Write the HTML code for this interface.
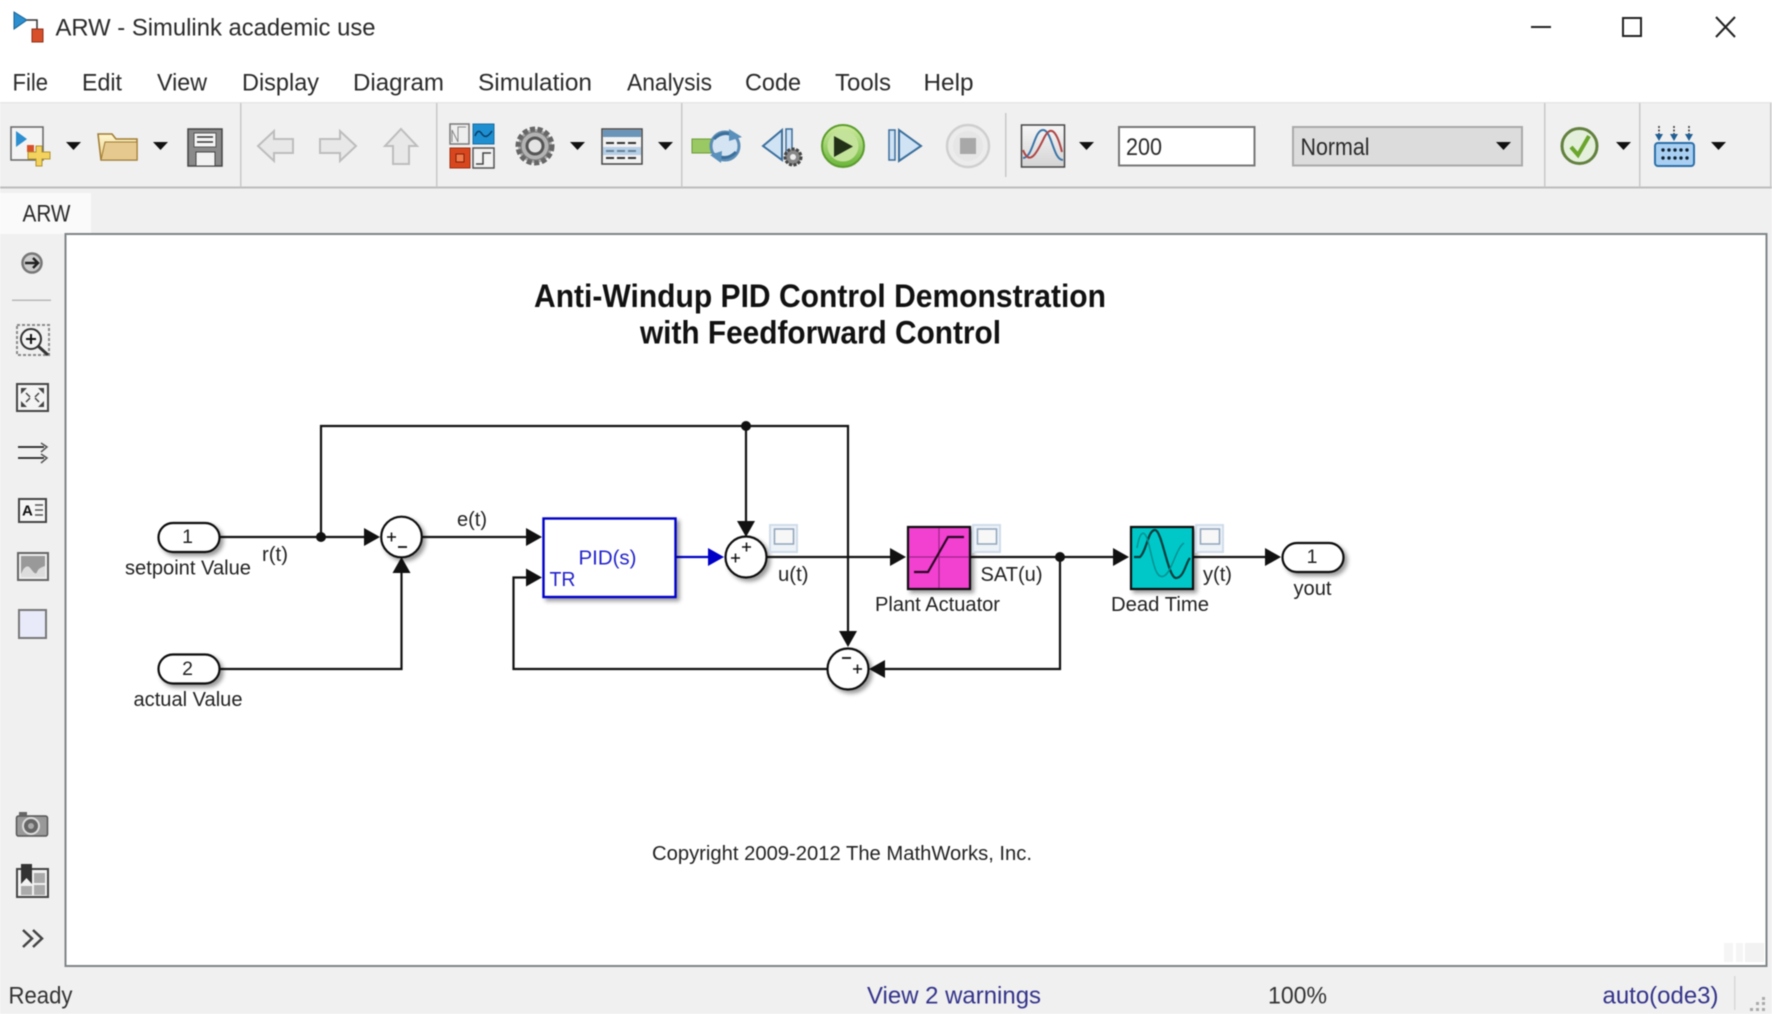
<!DOCTYPE html>
<html><head><meta charset="utf-8"><title>ARW - Simulink academic use</title>
<style>
html,body{margin:0;padding:0;background:#fff;width:1772px;height:1014px;overflow:hidden}
svg{display:block;filter:blur(.6px)}
text{font-family:"Liberation Sans",sans-serif;dominant-baseline:central}
.m{font-size:24px;fill:#2a2a2a}
.w{stroke:#111;stroke-width:2.2;fill:none}
.c{fill:#111}
.n{font-size:19.5px;fill:#222;text-anchor:middle}
.t{font-size:20px;fill:#222}
</style></head><body>
<svg width="1772" height="1014" viewBox="0 0 1772 1014" xmlns="http://www.w3.org/2000/svg">
<defs>
<filter id="s" x="-20%" y="-20%" width="150%" height="150%"><feDropShadow dx="3" dy="3" stdDeviation="2" flood-color="#000" flood-opacity=".4"/></filter>
<linearGradient id="g1" x1="0" y1="0" x2="0" y2="1"><stop offset="0" stop-color="#d2ecA2"/><stop offset="1" stop-color="#6ab63a"/></linearGradient>
<linearGradient id="g2" x1="0" y1="0" x2="0" y2="1"><stop offset="0" stop-color="#fff7d0"/><stop offset="1" stop-color="#e8cf86"/></linearGradient>
<linearGradient id="g3" x1="0" y1="0" x2="0" y2="1"><stop offset="0" stop-color="#f6f6f6"/><stop offset="1" stop-color="#d4d4d4"/></linearGradient>
</defs>

<!-- chrome -->
<rect width="1772" height="1014" fill="#f0f0f0"/>
<rect width="1772" height="102" fill="#fff"/>
<rect x="0" y="102" width="1772" height="1.5" fill="#e6e6e6"/>
<rect x="0" y="186.5" width="1772" height="2" fill="#bdbdbd"/>

<!-- app icon -->
<path d="M14 12 L14 29 L27 20Z" fill="#2b8fd0" stroke="#15608f"/>
<path d="M27 20 H37 V30" fill="none" stroke="#333" stroke-width="1.5"/>
<rect x="32" y="29" width="11" height="13" fill="#d8502a" stroke="#8d2d12"/>
<text class="m" x="55.5" y="28" textLength="320" lengthAdjust="spacingAndGlyphs">ARW - Simulink academic use</text>

<!-- window buttons -->
<rect x="1531" y="26" width="20" height="2" fill="#222"/>
<rect x="1623" y="18" width="18" height="18" fill="none" stroke="#222" stroke-width="2"/>
<path d="M1716 17 L1735 37 M1735 17 L1716 37" stroke="#222" stroke-width="2" fill="none"/>

<!-- menu -->
<text class="m" x="12.5" y="83" textLength="35.5" lengthAdjust="spacingAndGlyphs">File</text>
<text class="m" x="82" y="83" textLength="40" lengthAdjust="spacingAndGlyphs">Edit</text>
<text class="m" x="157" y="83" textLength="50" lengthAdjust="spacingAndGlyphs">View</text>
<text class="m" x="242" y="83" textLength="77" lengthAdjust="spacingAndGlyphs">Display</text>
<text class="m" x="353" y="83" textLength="91" lengthAdjust="spacingAndGlyphs">Diagram</text>
<text class="m" x="478" y="83" textLength="114" lengthAdjust="spacingAndGlyphs">Simulation</text>
<text class="m" x="627" y="83" textLength="85" lengthAdjust="spacingAndGlyphs">Analysis</text>
<text class="m" x="745" y="83" textLength="56" lengthAdjust="spacingAndGlyphs">Code</text>
<text class="m" x="835" y="83" textLength="56" lengthAdjust="spacingAndGlyphs">Tools</text>
<text class="m" x="923.5" y="83" textLength="50" lengthAdjust="spacingAndGlyphs">Help</text>

<!-- toolbar separators -->
<g fill="#c8c8c8">
<rect x="240" y="103" width="1.5" height="84"/><rect x="436" y="103" width="1.5" height="84"/>
<rect x="681" y="103" width="1.5" height="84"/><rect x="1005" y="113" width="1.5" height="64"/>
<rect x="1544" y="103" width="1.5" height="84"/><rect x="1639" y="103" width="1.5" height="84"/>
<rect x="1770" y="103" width="1.5" height="84"/>
</g>

<!-- new model -->
<rect x="11" y="127" width="32" height="33" fill="#f4f4f4" stroke="#666" stroke-width="1.5"/>
<path d="M16 131 V147 L27 139Z" fill="#2b8fd0"/><rect x="27" y="145" width="7" height="7" fill="#d8502a"/>
<path d="M36 146 h6 v6 h8 v7 h-8 v7 h-6 v-7 h-8 v-7 h8z" fill="#f3d35e" stroke="#b0902a"/>
<!-- carets -->
<g class="c">
<path d="M66 142 h15 l-7.5 8z"/><path d="M153 142 h15 l-7.5 8z"/><path d="M570 142 h15 l-7.5 8z"/>
<path d="M658 142 h15 l-7.5 8z"/><path d="M1079 142 h15 l-7.5 8z"/>
<path d="M1616 142 h15 l-7.5 8z"/><path d="M1711 142 h15 l-7.5 8z"/>
</g>
<!-- folder -->
<path d="M98 134 H112 L116 139 H137 V160 H101 Z" fill="url(#g2)" stroke="#a07a30" stroke-width="1.5"/>
<path d="M105 142 H137 V160 H101Z" fill="#e5c98f" stroke="#a07a30"/>
<!-- save -->
<path d="M188 129 H222 V166 H188Z" fill="#8a8a8a" stroke="#444" stroke-width="1.5"/>
<rect x="194" y="133" width="22" height="14" fill="#f4f4f4" stroke="#555"/>
<path d="M197 137 h16 M197 142 h16" stroke="#333" stroke-width="1.5"/>
<rect x="196" y="152" width="19" height="14" fill="#f2f2f2" stroke="#444"/>
<!-- nav -->
<path d="M258 146 L274 131 V139 H293 V153 H274 V161Z" fill="#e8e8e8" stroke="#bdbdbd" stroke-width="2"/>
<path d="M356 146 L340 131 V139 H320 V153 H340 V161Z" fill="#e8e8e8" stroke="#bdbdbd" stroke-width="2"/>
<path d="M401 129 L417 146 H409 V164 H393 V146 H385Z" fill="#e8e8e8" stroke="#bdbdbd" stroke-width="2"/>
<!-- library -->
<rect x="450" y="124" width="19" height="20" fill="#eee" stroke="#777" stroke-width="1.5"/>
<path d="M452 142 V130 L458 142 M458 142 V127 L466 127" stroke="#888" fill="none"/>
<rect x="473" y="124" width="21" height="20" fill="#1e8fd0" stroke="#176c9f"/>
<path d="M475 136 q3 -8 7 -2 t10 -3" stroke="#0b3c66" fill="none" stroke-width="1.5"/>
<rect x="450" y="148" width="20" height="20" fill="#d8461e" stroke="#9c2d10"/>
<rect x="456" y="154" width="8" height="8" fill="#f07a4a" stroke="#7d2008"/>
<rect x="473" y="148" width="21" height="20" fill="#f2f2f2" stroke="#555" stroke-width="1.5"/>
<path d="M476 164 h7 v-11 h8" stroke="#444" fill="none" stroke-width="1.5"/>
<!-- gear -->
<circle cx="535" cy="146" r="17" fill="#aaa" stroke="#666" stroke-width="5" stroke-dasharray="5 2.5"/>
<circle cx="535" cy="146" r="14" fill="#b4b4b4" stroke="#777"/>
<circle cx="535" cy="146" r="8" fill="#e4e4e4" stroke="#555" stroke-width="3"/>
<!-- explorer -->
<rect x="602" y="129" width="40" height="35" fill="#f2f2f2" stroke="#444" stroke-width="1.5"/>
<rect x="603" y="130" width="38" height="7" fill="#6a94b8"/>
<path d="M606 143 h8 m3 0 h8 m3 0 h8 M606 151 h8 m3 0 h8 m3 0 h8 M606 158 h8 m3 0 h8 m3 0 h8" stroke="#333" stroke-width="2"/>
<rect x="603" y="147" width="38" height="8" fill="#8cb7dd" opacity=".6"/>
<!-- update -->
<rect x="692" y="139" width="20" height="14" fill="#9ac862" stroke="#6a9a36"/>
<circle cx="725" cy="146" r="14" fill="#d5e4f2" stroke="#5c8cb5" stroke-width="3"/>
<path d="M714 139 q10 -10 22 -2 M736 152 q-10 10 -22 2" stroke="#3a6f9c" stroke-width="3" fill="none"/>
<path d="M729 129 L742 137 L729 141Z M721 163 L710 155 L722 151Z" fill="#5a90bc"/>
<!-- step back -->
<path d="M763 146 L782 130 V160Z" fill="#cfe3f5" stroke="#3b6e9c" stroke-width="2"/>
<rect x="786" y="129" width="6" height="30" fill="#cfe3f5" stroke="#3b6e9c" stroke-width="1.5"/>
<circle cx="793" cy="157" r="8" fill="#888" stroke="#444" stroke-width="3" stroke-dasharray="3 1.5"/>
<circle cx="793" cy="157" r="3" fill="#eee"/>
<!-- play -->
<circle cx="843" cy="146" r="21" fill="url(#g1)" stroke="#5a9c2c" stroke-width="2"/>
<circle cx="843" cy="146" r="15.5" fill="#c4e39a"/>
<path d="M834 136 L853 146.500 L834 157Z" fill="#223018"/>
<!-- step fwd -->
<rect x="889" y="130" width="6" height="30" fill="#cfe3f5" stroke="#3b6e9c" stroke-width="1.5"/>
<path d="M899 130 L921 146 L899 161Z" fill="#cfe3f5" stroke="#3b6e9c" stroke-width="2"/>
<!-- stop -->
<circle cx="968" cy="146" r="21" fill="#ececec" stroke="#cfcfcf" stroke-width="2.5"/>
<circle cx="968" cy="146" r="15" fill="#e6e6e6"/>
<rect x="960" y="138" width="16" height="16" fill="#a8a8a8"/>
<!-- scope -->
<rect x="1021.5" y="125" width="43" height="42" fill="url(#g3)" stroke="#444" stroke-width="1.5"/>
<path d="M1023 158 C1033 158 1034 130 1043 130 S1053 160 1063 160" fill="none" stroke="#3a74a8" stroke-width="2"/>
<path d="M1023 150 C1030 168 1038 150 1044 138 S1056 128 1062 152" fill="none" stroke="#b04444" stroke-width="2"/>
<!-- sim time -->
<rect x="1119" y="127" width="135.500" height="38.500" fill="#fff" stroke="#777" stroke-width="2"/>
<text class="m" x="1126" y="147.500" textLength="36" lengthAdjust="spacingAndGlyphs">200</text>
<!-- mode -->
<rect x="1293" y="127" width="229" height="38.500" fill="#dcdcdc" stroke="#aaa" stroke-width="2"/>
<path d="M1496 142 h15 l-7.500 8z" fill="#111"/>
<text class="m" x="1300.500" y="147.500" textLength="69" lengthAdjust="spacingAndGlyphs">Normal</text>
<!-- check -->
<circle cx="1579.500" cy="146" r="17.500" fill="#e5f0dc" stroke="#62803e" stroke-width="3"/>
<path d="M1571 147 L1578 155 L1589 136" fill="none" stroke="#6aa62c" stroke-width="4"/>
<!-- build -->
<rect x="1655" y="143" width="39" height="23" rx="3" fill="#a9d0f2" stroke="#2a6ea8" stroke-width="2"/>
<g fill="#123"><circle cx="1663" cy="150" r="1.700"/><circle cx="1669" cy="150" r="1.700"/><circle cx="1675" cy="150" r="1.700"/><circle cx="1681" cy="150" r="1.700"/><circle cx="1687" cy="150" r="1.700"/><circle cx="1663" cy="158" r="1.700"/><circle cx="1669" cy="158" r="1.700"/><circle cx="1675" cy="158" r="1.700"/><circle cx="1681" cy="158" r="1.700"/><circle cx="1687" cy="158" r="1.700"/></g>
<path d="M1659 126 v9 M1674 126 v9 M1689 126 v9" stroke="#333" stroke-width="1.500" stroke-dasharray="2 1.500"/>
<path d="M1655 134 h8 l-4 7z M1670 134 h8 l-4 7z M1685 134 h8 l-4 7z" fill="#1f5f95"/>

<!-- tab -->
<rect x="0" y="193" width="91" height="41" fill="#fafafa"/>
<text class="m" x="22.500" y="214" textLength="48" lengthAdjust="spacingAndGlyphs">ARW</text>

<!-- canvas -->
<rect x="65.500" y="234" width="1701" height="732" fill="#fff" stroke="#7f8487" stroke-width="2"/>
<rect x="1724" y="943" width="9" height="19" fill="#f5f5f5"/><rect x="1736" y="943" width="7" height="19" fill="#f5f5f5"/><rect x="1745" y="943" width="19" height="19" fill="#f2f2f2"/>

<!-- left toolbar -->
<circle cx="32" cy="263" r="9.500" fill="#ccc" stroke="#777" stroke-width="2.500"/>
<path d="M25 263 H38 M33 258 L38 263 L33 268" stroke="#222" stroke-width="2.500" fill="none"/>
<rect x="12" y="299.500" width="39" height="1.500" fill="#b8b8b8"/>
<rect x="17" y="325" width="32" height="30" fill="none" stroke="#888" stroke-width="2" stroke-dasharray="3 2"/>
<circle cx="31" cy="339" r="10" fill="#f4f4f4" stroke="#333" stroke-width="2"/>
<path d="M26 339 h10 M31 334 v10" stroke="#111" stroke-width="2"/><path d="M38 346 L48 355" stroke="#333" stroke-width="3"/>
<rect x="17" y="384" width="31" height="27" fill="#f4f4f4" stroke="#444" stroke-width="2"/>
<path d="M21 388 h6 l-6 6z M44 388 h-6 l6 6z M21 407 h6 l-6 -6z M44 407 h-6 l6 -6z" fill="#444"/>
<path d="M26 393 L30 397 M39 393 L35 397 M26 402 L30 398 M39 402 L35 398" stroke="#444" stroke-width="1.500"/>
<path d="M18 447 H44 M18 458 H44" stroke="#222" stroke-width="1.800" fill="none"/>
<path d="M41 443 L47 447 L41 452 M41 454 L47 458 L41 463" stroke="#555" stroke-width="1.500" fill="none"/>
<rect x="19" y="499" width="27" height="23" fill="#f6f6f6" stroke="#444" stroke-width="2"/>
<text x="22" y="511" style="font-size:15px;font-weight:bold;fill:#111">A</text>
<path d="M35 505 h8 M35 510 h8 M35 515 h8" stroke="#555" stroke-width="1.500"/>
<rect x="18" y="553" width="30" height="27" fill="#eee" stroke="#666" stroke-width="2"/>
<path d="M21 556 H45 V577 H21Z" fill="#999"/><path d="M21 574 q5 -12 10 -5 t6 3 t8 -6 V577 H21Z" fill="#ddd"/>
<rect x="19" y="610" width="27" height="28" fill="#e8eafa" stroke="#777" stroke-width="2"/>
<rect x="16.500" y="816" width="31" height="20" rx="2" fill="#999" stroke="#555" stroke-width="1.500"/>
<rect x="19" y="812" width="8" height="4" fill="#666"/>
<circle cx="31" cy="826" r="8" fill="#666" stroke="#ddd" stroke-width="2"/><circle cx="31" cy="826" r="3" fill="#aaa"/>
<rect x="17" y="869" width="31" height="28" fill="#f2f2f2" stroke="#444" stroke-width="2"/>
<rect x="34" y="873" width="11" height="10" fill="#aaa"/><rect x="21" y="886" width="11" height="9" fill="#aaa"/><rect x="34" y="885" width="11" height="10" fill="#aaa"/>
<path d="M21 864 H32 V884 L26.500 878 L21 884Z" fill="#333"/>
<path d="M23 930 L32 938.500 L23 947 M33 930 L42 938.500 L33 947" fill="none" stroke="#444" stroke-width="2.500"/>

<!-- status bar -->
<text class="m" x="8.500" y="996" textLength="64" lengthAdjust="spacingAndGlyphs" style="fill:#333">Ready</text>
<text class="m" x="867" y="996" textLength="174" lengthAdjust="spacingAndGlyphs" style="fill:#33338a">View 2 warnings</text>
<text class="m" x="1268" y="996" textLength="59" lengthAdjust="spacingAndGlyphs" style="fill:#333">100%</text>
<text class="m" x="1602.500" y="996" textLength="116" lengthAdjust="spacingAndGlyphs" style="fill:#33338a">auto(ode3)</text>
<rect x="1734" y="976" width="1.500" height="34" fill="#d8d8d8"/>
<g fill="#aaa"><rect x="1762" y="997" width="3" height="3"/><rect x="1756" y="1002" width="3" height="3"/><rect x="1762" y="1002" width="3" height="3"/><rect x="1750" y="1008" width="3" height="3"/><rect x="1756" y="1008" width="3" height="3"/><rect x="1762" y="1008" width="3" height="3"/></g>

<!-- title -->
<text x="534" y="296" textLength="572" lengthAdjust="spacingAndGlyphs" style="font-size:32px;font-weight:bold;fill:#111">Anti-Windup PID Control Demonstration</text>
<text x="640" y="332.500" textLength="361" lengthAdjust="spacingAndGlyphs" style="font-size:32px;font-weight:bold;fill:#111">with Feedforward Control</text>
<text x="652" y="854" textLength="380" lengthAdjust="spacingAndGlyphs" style="font-size:20px;fill:#222">Copyright 2009-2012 The MathWorks, Inc.</text>

<!-- wires -->
<g class="w">
<path d="M220 537 H366"/>
<path d="M321 537 V426 H848 V634"/>
<path d="M746 426 V524"/>
<path d="M422 537 H528"/>
<path d="M220 669 H401.500 V573"/>
<path d="M767 557 H893"/>
<path d="M970 557 H1116"/>
<path d="M1193 557 H1268"/>
<path d="M1060 557 V669 H884"/>
<path d="M827 669 H513.500 V577.500 H528"/>
</g>
<path d="M676 557 H711" stroke="#0000c8" stroke-width="2.200" fill="none"/>
<!-- arrowheads -->
<g class="c">
<path d="M364 528 L380 537 L364 546Z"/>
<path d="M526 528 L542 537 L526 546Z"/>
<path d="M526 568.500 L542 577.500 L526 586.500Z"/>
<path d="M392.500 573 L401.500 557 L410.500 573Z"/>
<path d="M737 521 L746 537 L755 521Z"/>
<path d="M839 631 L848 647 L857 631Z"/>
<path d="M885 660 L869 669 L885 678Z"/>
<path d="M890 548 L906 557 L890 566Z"/>
<path d="M1113 548 L1129 557 L1113 566Z"/>
<path d="M1265 548 L1281 557 L1265 566Z"/>
<circle cx="321" cy="537" r="5"/><circle cx="746" cy="426" r="5"/><circle cx="1060" cy="557" r="5"/>
</g>
<path d="M708 548 L724 557 L708 566Z" fill="#0000c8"/>

<!-- inports / outport -->
<g fill="#fff" stroke="#111" stroke-width="2.200" filter="url(#s)">
<rect x="158.500" y="523" width="61" height="29" rx="14.500"/>
<rect x="158.500" y="654.500" width="61" height="29" rx="14.500"/>
<rect x="1282.500" y="543" width="61" height="29" rx="14.500"/>
<circle cx="401.500" cy="537" r="20.300"/>
<circle cx="746" cy="557" r="20.500"/>
<circle cx="848" cy="669" r="20.500"/>
</g>
<text class="n" x="187.500" y="537">1</text>
<text class="n" x="187.500" y="669">2</text>
<text class="n" x="1312" y="557">1</text>

<!-- sum signs -->
<path d="M387 537 h9 M391.500 532.500 v9" stroke="#111" stroke-width="1.500"/>
<path d="M398 547 h9" stroke="#111" stroke-width="1.800"/>
<path d="M731 558 h9 M735.500 553.500 v9" stroke="#111" stroke-width="1.500"/>
<path d="M742 547 h9 M746.500 542.500 v9" stroke="#111" stroke-width="1.500"/>
<path d="M842 658 h9" stroke="#111" stroke-width="1.800"/>
<path d="M853 669 h9 M857.500 664.500 v9" stroke="#111" stroke-width="1.500"/>

<!-- PID -->
<rect x="543.500" y="518.500" width="132" height="78.500" fill="#fff" stroke="#0000c8" stroke-width="2.400" filter="url(#s)"/>
<text x="578.500" y="558.500" textLength="58" lengthAdjust="spacingAndGlyphs" style="font-size:20px;fill:#2222cc">PID(s)</text>
<text x="549.500" y="580" textLength="26" lengthAdjust="spacingAndGlyphs" style="font-size:20px;fill:#2222cc">TR</text>

<!-- plant -->
<rect x="908" y="527" width="62" height="62" fill="#f23fd0" stroke="#111" stroke-width="2.200" filter="url(#s)"/>
<path d="M909 557 H969 M939 528 V588" stroke="#a0248a" stroke-width="1.200"/>
<path d="M914 572 H928 L948 537 H964" fill="none" stroke="#2a0a24" stroke-width="2.200"/>
<!-- dead time -->
<rect x="1131" y="527" width="62" height="62" fill="#00c8c8" stroke="#111" stroke-width="2.200" filter="url(#s)"/>
<path d="M1134 557 H1140 C1147 550 1148 530 1155 530 S1168 578 1176 578 S1186 562 1190 558" fill="none" stroke="#063c3c" stroke-width="2.200"/>
<path d="M1137 548 C1140 530 1145 528 1149 545 S1156 580 1164 576 S1176 548 1184 543" fill="none" stroke="#069090" stroke-width="1.500"/>

<!-- viewers -->
<g>
<rect x="770" y="525" width="27" height="27" fill="#eef3f8" stroke="#cfdcea" stroke-width="2"/>
<rect x="774.500" y="529" width="19" height="15" fill="#f7f7f7" stroke="#8fa4bb" stroke-width="1.500"/>
<rect x="973" y="525" width="27" height="27" fill="#eef3f8" stroke="#cfdcea" stroke-width="2"/>
<rect x="977.500" y="529" width="19" height="15" fill="#f7f7f7" stroke="#8fa4bb" stroke-width="1.500"/>
<rect x="1196" y="525" width="27" height="27" fill="#eef3f8" stroke="#cfdcea" stroke-width="2"/>
<rect x="1200.500" y="529" width="19" height="15" fill="#f7f7f7" stroke="#8fa4bb" stroke-width="1.500"/>
</g>

<!-- labels -->
<text class="t" x="125" y="568.500" textLength="126" lengthAdjust="spacingAndGlyphs">setpoint Value</text>
<text class="t" x="133.500" y="700" textLength="109" lengthAdjust="spacingAndGlyphs">actual Value</text>
<text class="t" x="262" y="555" textLength="26" lengthAdjust="spacingAndGlyphs">r(t)</text>
<text class="t" x="457" y="520" textLength="30" lengthAdjust="spacingAndGlyphs">e(t)</text>
<text class="t" x="778" y="575" textLength="30.500" lengthAdjust="spacingAndGlyphs">u(t)</text>
<text class="t" x="980.500" y="575" textLength="62" lengthAdjust="spacingAndGlyphs">SAT(u)</text>
<text class="t" x="1203" y="575" textLength="29" lengthAdjust="spacingAndGlyphs">y(t)</text>
<text class="t" x="875" y="605" textLength="125" lengthAdjust="spacingAndGlyphs">Plant Actuator</text>
<text class="t" x="1111" y="605" textLength="98" lengthAdjust="spacingAndGlyphs">Dead Time</text>
<text class="t" x="1293.500" y="589" textLength="38" lengthAdjust="spacingAndGlyphs">yout</text>
</svg>
</body></html>
